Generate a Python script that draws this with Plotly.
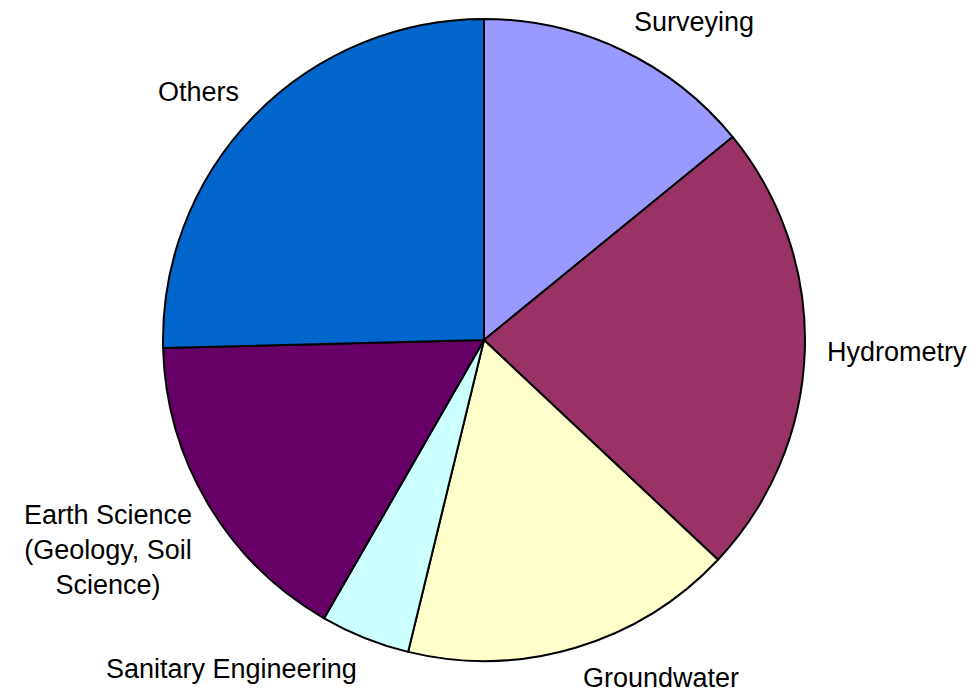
import plotly.graph_objects as go

W, H = 976, 692
OFF = 8  # page body margin shifts the figure by this many pixels

labels = ["Surveying", "Hydrometry", "Groundwater", "Sanitary Engineering",
          "Earth Science<br>(Geology, Soil<br>Science)", "Others"]
values = [14.1, 22.9, 16.8, 4.5, 16.3, 25.4]
colors = ["#9999FF", "#993366", "#FFFFCC", "#CCFFFF", "#660066", "#0066CC"]

# label centres in screen pixels (Excel-style placement)
label_px = [(694, 22), (897, 352), (661, 678), (231, 669), (108, 550), (198, 92)]

cx, cy, r = 484 - OFF, 340 - OFF, 321


def px_to_paper(px, py):
    return (px - OFF) / W, 1 - (py - OFF) / H


fig = go.Figure(go.Pie(
    labels=labels, values=values, sort=False, direction="clockwise", rotation=0,
    marker=dict(colors=colors, line=dict(color="#000000", width=2)),
    textinfo="none", hoverinfo="label+value", showlegend=False,
    domain=dict(x=[(cx - r) / W, (cx + r) / W], y=[1 - (cy + r) / H, 1 - (cy - r) / H]),
))

for lab, (px, py) in zip(labels, label_px):
    x, y = px_to_paper(px, py)
    fig.add_annotation(
        x=x, y=y, xref="paper", yref="paper",
        text=lab, showarrow=False, align="center",
        xanchor="center", yanchor="middle",
        font=dict(family="Liberation Sans, Arial, sans-serif", size=27, color="#000000"),
    )

fig.update_layout(
    width=W, height=H, margin=dict(l=0, r=0, t=0, b=0),
    paper_bgcolor="white", plot_bgcolor="white",
)
fig.write_html("out.html")
